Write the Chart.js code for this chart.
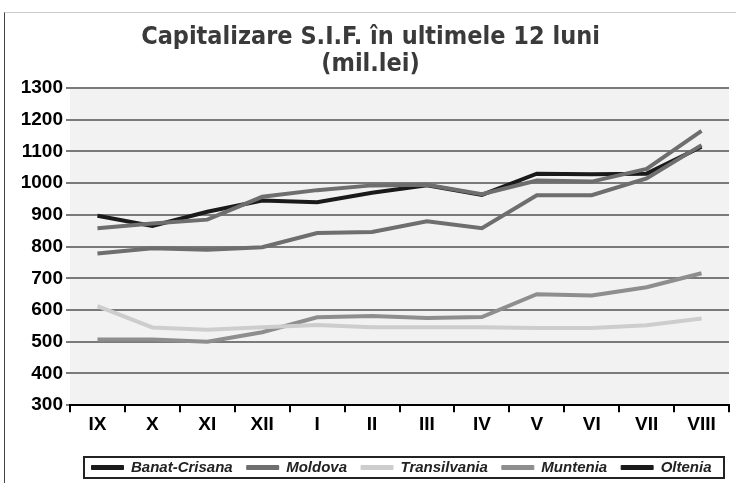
<!DOCTYPE html>
<html>
<head>
<meta charset="utf-8">
<script src="https://cdn.jsdelivr.net/npm/chart.js@4"></script>
<style>
  html, body { margin: 0; padding: 0; background: #fff; }
  #wrap { position: relative; width: 736px; height: 483px; }
  #frame { position: absolute; left: 4px; top: 12px; right: 0; bottom: 0;
           border-left: 1px solid #444; border-top: 1px solid #ccc; }
  canvas { position: absolute; left: 0; top: 0; }
</style>
</head>
<body>
<div id="wrap">
  <div id="frame"></div>
  <canvas id="sifChart" width="736" height="483"></canvas>
</div>
<script>
const months = ['IX', 'X', 'XI', 'XII', 'I', 'II', 'III', 'IV', 'V', 'VI', 'VII', 'VIII'];
const banatCrisana = [778, 795, 790, 798, 843, 846, 880, 858, 962, 962, 1015, 1120];
const moldova = [858, 873, 885, 957, 978, 993, 995, 965, 1008, 1005, 1045, 1165];
const transilvania = [612, 545, 538, 546, 553, 546, 546, 546, 543, 543, 552, 573];
const muntenia = [507, 507, 500, 530, 577, 581, 575, 578, 650, 646, 672, 716];
const oltenia = [897, 865, 910, 945, 940, 970, 993, 963, 1030, 1028, 1030, 1115];
const yTicks = [300, 400, 500, 600, 700, 800, 900, 1000, 1100, 1200, 1300];

const line = (label, values, color, legendColor) => ({
  label, data: values, borderColor: color, backgroundColor: color,
  legendColor: legendColor || color,
  borderWidth: 4, pointRadius: 0, tension: 0, fill: false
});

// grey plot background + framed legend
const decor = {
  id: 'decor',
  afterLayout(chart) {
    const lg = chart.legend;
    lg.left += 31; lg.right += 31;
    lg.top += 9; lg.bottom += 9;
  },
  beforeDraw(chart) {
    const { ctx, chartArea: a } = chart;
    ctx.save();
    ctx.fillStyle = '#f2f2f2';
    ctx.fillRect(a.left, a.top, a.right - a.left, a.bottom - a.top);
    ctx.restore();
  },
  afterDraw(chart) {
    const { ctx } = chart;
    ctx.save();
    ctx.strokeStyle = '#222';
    ctx.lineWidth = 2;
    ctx.strokeRect(84, 457, 640, 21);
    ctx.restore();
  }
};

new Chart(document.getElementById('sifChart'), {
  type: 'line',
  data: {
    labels: months,
    datasets: [
      line('Banat-Crisana', banatCrisana, '#6e6e6e', '#1a1a1a'),
      line('Moldova', moldova, '#6e6e6e'),
      line('Transilvania', transilvania, '#cdcdcd'),
      line('Muntenia', muntenia, '#8e8e8e'),
      line('Oltenia', oltenia, '#1a1a1a')
    ]
  },
  options: {
    responsive: false,
    animation: false,
    layout: { padding: { left: 12, right: 7, top: 0, bottom: 7 } },
    plugins: {
      title: {
        display: true,
        text: ['Capitalizare S.I.F. în ultimele 12 luni', '(mil.lei)'],
        color: '#3a3a3a',
        font: { family: "'DejaVu Sans', sans-serif", size: 25, weight: 'bold condensed', lineHeight: 1.08 },
        padding: { top: 24, bottom: 10 }
      },
      legend: {
        position: 'bottom',
        labels: {
          boxWidth: 32, boxHeight: 4, padding: 14, color: '#222',
          font: { family: 'Liberation Sans', size: 15, weight: 'bold', style: 'italic' },
          generateLabels(chart) {
            return Chart.defaults.plugins.legend.labels.generateLabels(chart).map((it, i) => {
              const c = chart.data.datasets[i].legendColor;
              it.fillStyle = c; it.strokeStyle = c; it.lineWidth = 1;
              return it;
            });
          }
        }
      },
      tooltip: { enabled: false }
    },
    scales: {
      x: {
        offset: true,
        grid: { drawOnChartArea: false, drawTicks: true, tickLength: 7, color: '#000', lineWidth: 2, offset: true },
        border: { display: true, color: '#000', width: 2 },
        ticks: { color: '#000', padding: 1, font: { family: 'Liberation Sans', size: 19, weight: 'bold' } }
      },
      y: {
        min: 300, max: 1300,
        afterBuildTicks(scale) { scale.ticks = yTicks.map(v => ({ value: v })); },
        afterFit(scale) { scale.width = 58; },
        grid: { color: '#7a7a7a', lineWidth: 2, tickLength: 4 },
        border: { display: false },
        ticks: {
          color: '#000', padding: 3,
          font: { family: 'Liberation Sans', size: 19, weight: 'bold' },
          callback: v => String(v)
        }
      }
    }
  },
  plugins: [decor]
});
</script>
</body>
</html>
